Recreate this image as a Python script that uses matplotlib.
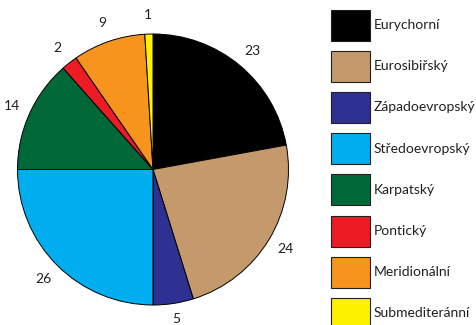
import matplotlib
matplotlib.use("Agg")
import matplotlib.pyplot as plt
from matplotlib.patches import Rectangle

# data
labels = ["Eurychorní", "Eurosibiřský", "Západoevropský", "Středoevropský",
          "Karpatský", "Pontický", "Meridionální", "Submediteránní"]
values = [23, 24, 5, 26, 14, 2, 9, 1]
colors = ["#000000", "#C49A6C", "#2E3192", "#00AEEF",
          "#006838", "#ED1C24", "#F7941D", "#FFF200"]

plt.rcParams["font.family"] = ["Lato", "DejaVu Sans"]

W, H = 476, 325
fig = plt.figure(figsize=(W / 100, H / 100), dpi=100)

# pie axes, placed in pixels
cx, cy, R = 153, 169.5, 135.5
half = R * 1.25
ax = fig.add_axes([(cx - half) / W, (H - cy - half) / H, 2 * half / W, 2 * half / H])
wedges, texts = ax.pie(values, colors=colors, labels=[str(v) for v in values],
                       startangle=90, counterclock=False, labeldistance=1.14,
                       wedgeprops=dict(edgecolor="black", linewidth=0.7),
                       textprops=dict(fontsize=10, color="#231F20"))
for t in texts:
    t.set_ha("center")
    t.set_va("center")
# the bottom label sits a little closer in the original
texts[2].set_y(-1.1)
ax.set_xlim(-1.25, 1.25)
ax.set_ylim(-1.25, 1.25)
ax.set_aspect("equal")
ax.axis("off")

# legend drawn by hand
lax = fig.add_axes([0, 0, 1, 1])
lax.set_xlim(0, W)
lax.set_ylim(H, 0)
lax.axis("off")
for i, (lab, col) in enumerate(zip(labels, colors)):
    yc = 25 + i * 41.2
    lax.add_patch(Rectangle((331, yc - 15.5), 39, 31, facecolor=col,
                            edgecolor="#231F20", linewidth=0.8))
    lax.text(374, yc, lab, fontsize=10, va="center", ha="left", color="#231F20")

fig.savefig("out.png", dpi=100)
